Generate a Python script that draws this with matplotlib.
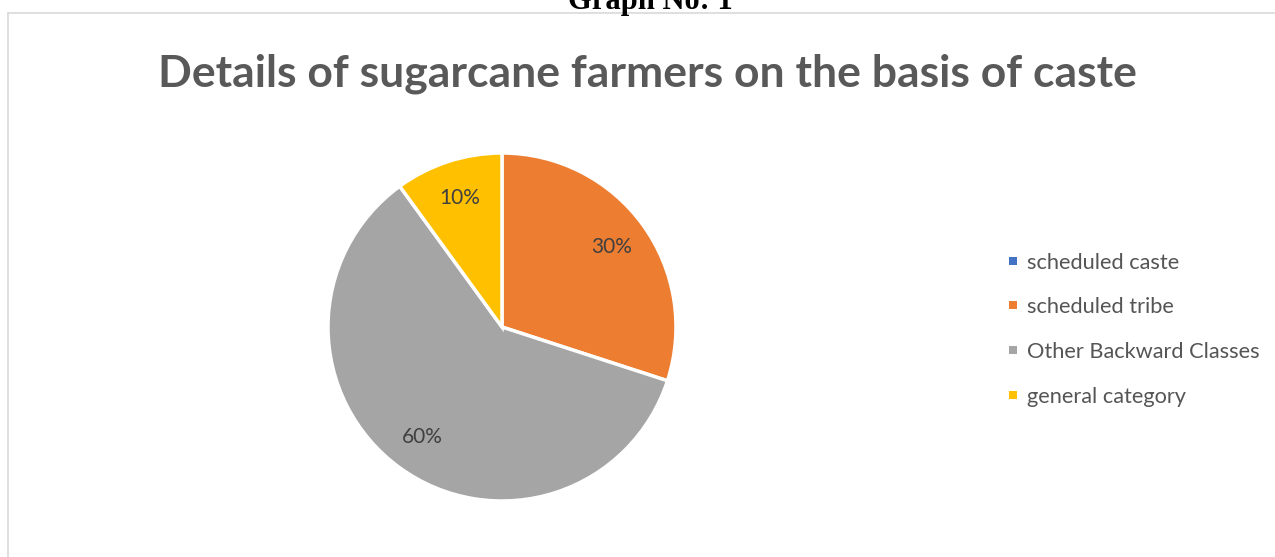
import matplotlib
matplotlib.use("Agg")
import matplotlib.pyplot as plt
from matplotlib.lines import Line2D
from matplotlib.patches import Rectangle
import numpy as np

categories = ["scheduled caste", "scheduled tribe", "Other Backward Classes", "general category"]
values = [0, 30, 60, 10]
colors = ["#4472C4", "#ED7D31", "#A5A5A5", "#FFC000"]
title = "Details of sugarcane farmers on the basis of caste"
header = "Graph No: 1"

W, H = 1275, 557
fig = plt.figure(figsize=(W / 100, H / 100), dpi=100)
fig.patch.set_facecolor("white")

# border lines
fig.add_artist(Line2D([8 / W, 1], [1 - 12.5 / H, 1 - 12.5 / H], color="#d9d9d9", lw=1.2))
fig.add_artist(Line2D([8 / W, 8 / W], [0, 1 - 12.5 / H], color="#d9d9d9", lw=1.2))

fig.text(650 / W, 1 - 9 / H, header, ha="center", va="baseline",
         family="Liberation Serif", weight="bold", fontsize=22, color="black")

fig.text(647 / W, 1 - 86 / H, title, ha="center", va="baseline",
         family="Lato", weight="bold", fontsize=32, color="#595959")

cx, cy, r = 502, 327, 174
ax = fig.add_axes([(cx - r) / W, (H - cy - r) / H, 2 * r / W, 2 * r / H])

ax.pie(values, colors=colors, startangle=90, counterclock=False,
       wedgeprops=dict(edgecolor="white", linewidth=2.5), radius=1.0)
total = sum(values)
ang = 90.0
for v in values:
    span = 360.0 * v / total
    if v > 0:
        mid = np.deg2rad(ang - span / 2)
        ax.text(0.78 * np.cos(mid), 0.78 * np.sin(mid), f"{100 * v / total:.0f}%",
                ha="center", va="center", family="Lato", fontsize=15, color="#404040")
    ang -= span
ax.set_xlim(-1, 1)
ax.set_ylim(-1, 1)
ax.set_aspect("equal")
ax.axis("off")

# legend
ys = [261, 305, 350, 395]
for lab, col, y in zip(categories, colors, ys):
    fig.add_artist(Rectangle(((1013 - 4) / W, (H - y - 4) / H), 8 / W, 8 / H,
                             facecolor=col, edgecolor="none"))
    fig.text(1027 / W, 1 - (y + 2) / H, lab, ha="left", va="center",
             family="Lato", fontsize=15.7, color="#555555")

fig.savefig("out.png", dpi=100, facecolor="white")
